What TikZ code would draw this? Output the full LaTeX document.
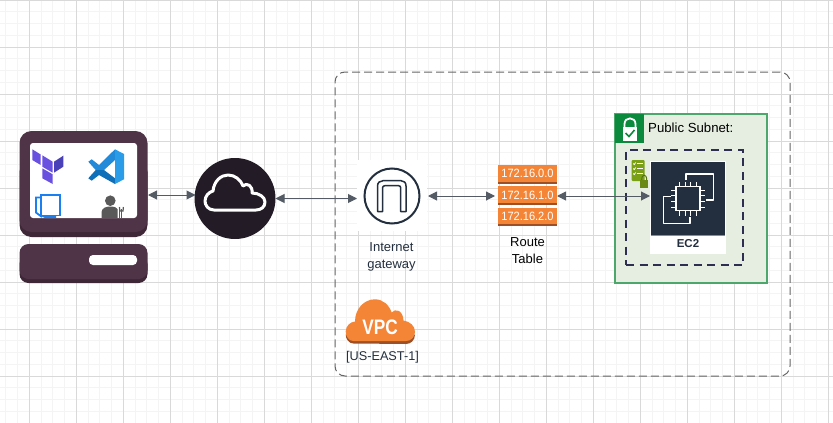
\documentclass[tikz,border=0pt]{standalone}
\usepackage{fontspec}
\setmainfont{Liberation Sans}
\usetikzlibrary{arrows.meta}
\definecolor{plum}{HTML}{4F3447}
\definecolor{plumdark}{HTML}{3E2736}
\definecolor{ink}{HTML}{232F3E}
\definecolor{conncol}{HTML}{545B64}
\definecolor{orangea}{HTML}{F58536}
\definecolor{orangeb}{HTML}{9D5025}
\definecolor{gridmaj}{HTML}{D9D9D9}
\definecolor{gridmin}{HTML}{F4F4F4}
\definecolor{subfill}{HTML}{E6EEE2}
\definecolor{subline}{HTML}{4CA86A}
\definecolor{subgreen}{HTML}{0B8A3E}
\definecolor{navydash}{HTML}{2E2E52}
\definecolor{listgreen}{HTML}{7AA116}
\definecolor{tfb}{HTML}{6A50E0}
\definecolor{tfc}{HTML}{4A40B8}
\definecolor{vsa}{HTML}{2A9CE8}
\definecolor{vsb}{HTML}{0F6FB8}
\definecolor{vsc}{HTML}{2389D9}
\definecolor{bluesq}{HTML}{1A7FF0}
\definecolor{netdark}{HTML}{231C26}
\tikzset{
  conn/.style={draw=conncol,line width=1pt,{Triangle[length=9pt,width=9pt]}-{Triangle[length=9pt,width=9pt]}},
  box/.style={inner sep=0pt,outer sep=0pt,draw=none},
  routerow/.style={box,fill=orangea,minimum width=59pt,minimum height=16.5pt},
  routetext/.style={inner sep=0pt,text=white,xscale=.92,font=\fontsize{12}{12}\selectfont},
  lbl/.style={inner sep=0pt,align=center,font=\fontsize{13}{17}\selectfont},
}
\begin{document}
\begin{tikzpicture}[x=1pt,y=-1pt]
\useasboundingbox (0,0) rectangle (833,423);
\fill[white] (0,0) rectangle (833,423);
% grid
\foreach \k in {0,...,71}{
  \draw[gridmin,line width=1pt] ({5.8+11.75*\k},0) -- ({5.8+11.75*\k},423);
}
\foreach \k in {0,...,36}{
  \draw[gridmin,line width=1pt] (0,{11.75*\k}) -- (833,{11.75*\k});
}
\foreach \k in {0,...,17}{
  \draw[gridmaj,line width=1pt] ({29.3+47*\k},0) -- ({29.3+47*\k},423);
}
\foreach \k in {0,...,9}{
  \draw[gridmaj,line width=1pt] (0,{47*\k}) -- (833,{47*\k});
}
% VPC boundary
\node[box,draw=black!60,dashed,dash pattern=on 8pt off 4pt,line width=1pt,rounded corners=10pt,minimum width=455pt,minimum height=304pt] (vpc) at (562.5,224) {};
% computer
\fill[plumdark,rounded corners=12pt] (19.5,160) rectangle (147.5,237);
\node[box,fill=plum,rounded corners=12pt,minimum width=128pt,minimum height=101pt] (pc) at (83.5,181.5) {};
\node[box,fill=white,rounded corners=3pt,minimum width=107pt,minimum height=75pt] (screen) at (83.5,180.5) {};
\fill[plumdark,rounded corners=9pt] (19.5,255) rectangle (147.5,283);
\node[box,fill=plum,rounded corners=9pt,minimum width=128pt,minimum height=35pt] (base) at (83.5,261.5) {};
\node[box,fill=white,rounded corners=4pt,minimum width=48pt,minimum height=10pt] (btn) at (113,260) {};
% terraform
\fill[tfb] (32.3,149.3) -- (40.7,154.5) -- (40.7,165) -- (32.3,160) -- cycle;
\fill[tfb] (42.3,155.3) -- (52.7,161.7) -- (52.7,172.7) -- (42.3,166.7) -- cycle;
\fill[tfc] (54,161.7) -- (63.3,155.7) -- (63.3,166.7) -- (54,172.7) -- cycle;
\fill[tfb] (42.3,168.3) -- (52.7,174.3) -- (52.7,184) -- (42.3,178.3) -- cycle;
% vs code
\fill[vsc] (115,149.3) -- (99,165) -- (91.7,159.3) -- (88.3,161.7) -- (95.7,170) -- (104,170) -- (115,160) -- cycle;
\fill[vsb] (88.3,178.3) -- (91.7,180.7) -- (99,175) -- (115,184) -- (115,178.3) -- (104,170) -- (95.7,170) -- cycle;
\fill[vsa] (115,149.3) -- (124,154) -- (124,179.3) -- (115,184) -- cycle;
% blue squares
\draw[bluesq,line width=1.8pt] (41,195.3) rectangle (60,215.5);
\draw[bluesq,line width=1.8pt] (41,197.5) -- (36,197.5) -- (36,212.5) -- (42,217);
\fill[bluesq] (41,216) -- (56,216) -- (56,218) -- (45,218) -- cycle;
% person
\fill[black!65] (110.3,200.7) circle[radius=5.3];
\fill[black!65] (101.5,218) -- (101.5,212) .. controls (102,208) and (106,206.5) .. (110.3,206.5) .. controls (114,206.5) and (117,207.5) .. (117.5,209) -- (117.5,218) -- cycle;
\draw[black!65,line width=1.2pt] (121.5,209) -- (121.5,218);
\draw[black!65,line width=1.1pt] (119.3,211) -- (119.3,218);
\draw[black!65,line width=1.2pt] (119.5,207) -- (119.8,211) -- (123,211) -- (123.4,207);
% internet cloud
\node[box,circle,fill=netdark,minimum size=81pt] (net) at (235,198.5) {};
\draw[white,line width=3pt,line join=round] (214,210) .. controls (208,210) and (205,205) .. (205,201) .. controls (205,196) and (209,192) .. (213,191) .. controls (214,181) and (221,175) .. (228,175) .. controls (235,175) and (241,180) .. (243,186) .. controls (247,182) and (253,186) .. (252,193) .. controls (259,193) and (265,197) .. (265,202) .. controls (265,207) and (261,210) .. (256,210) -- cycle;
% gateway
\node[box,fill=white,minimum width=70pt,minimum height=71pt] (igw) at (392,195.5) {};
\draw[ink,line width=2pt] (392,196) circle[radius=27.5];
\draw[ink,line width=1.5pt,line join=round] (377.5,211.5) -- (377.5,186) .. controls (377.5,182.5) and (380,180.7) .. (383,180.7) -- (401,180.7) .. controls (404,180.7) and (406,182.5) .. (406,186) -- (406,211.5) -- (400.7,211.5) -- (400.7,188) .. controls (400.7,186.5) and (400,185.7) .. (398.5,185.7) -- (385,185.7) .. controls (383.5,185.7) and (382.5,186.5) .. (382.5,188) -- (382.5,211.5) -- cycle;
\node[lbl,text=ink] (igwlabel) at (391.5,257) {Internet\\gateway};
% route table
\fill[orangeb] (498,165) rectangle (557,184);
\fill[orangeb] (498,186.5) rectangle (557,205);
\fill[orangeb] (498,208) rectangle (557,226);
\node[routerow] (rta) at (527.5,173.3) {};
\node[routerow] (rtb) at (527.5,194.6) {};
\node[routerow] (rtc) at (527.5,216) {};
\node[routetext] (rtat) at (527.5,173.6) {172.16.0.0};
\node[routetext] (rtbt) at (527.5,195) {172.16.1.0};
\node[routetext] (rtct) at (527.5,216.3) {172.16.2.0};
\node[lbl,text=black] (rtlabel) at (527.5,250.5) {Route\\Table};
% VPC cloud
\fill[orangeb] (353.3,343.5) .. controls (349,343.5) and (345.7,339) .. (345.7,334.5) -- (415,334.5) .. controls (415,340) and (411,344) .. (406,344) -- cycle;
\fill[orangea] (353.3,341) .. controls (349,341) and (345.7,336.5) .. (345.7,331.7) .. controls (345.7,326) and (350,322) .. (355,321.5) .. controls (355,309) and (364,299.3) .. (375,299.3) .. controls (383,299.3) and (389,305) .. (391.7,312.5) .. controls (395,308) and (403,310) .. (403.5,320.5) .. controls (410,321.5) and (415,326) .. (415,331.7) .. controls (415,337) and (411,341) .. (406,341) -- cycle;
\node[inner sep=0pt,text=white,xscale=.82,font=\bfseries\fontsize{21}{21}\selectfont] (vpclabel) at (380,327.5) {VPC};
\node[inner sep=0pt,text=ink,font=\fontsize{12.7}{15}\selectfont] (region) at (382.5,357) {[US-EAST-1]};
% subnet
\node[box,draw=subline,fill=subfill,line width=1.5pt,minimum width=152pt,minimum height=169pt] (subnet) at (691,198.5) {};
\node[box,fill=subgreen,minimum width=29pt,minimum height=29pt] (lockbg) at (629.5,128.5) {};
\draw[white,line width=1.8pt] (624.5,127) -- (624.5,124) .. controls (624.5,116.5) and (635.5,116.5) .. (635.5,124) -- (635.5,127);
\fill[white] (622.7,127) rectangle (637,140.5);
\draw[subgreen,line width=1.6pt] (625.5,133) -- (629,136.5) -- (634.5,130);
\node[anchor=west,inner sep=0pt,text=black,font=\fontsize{13.2}{15}\selectfont] (sublabel) at (648,128) {Public Subnet:};
\node[box,draw=navydash,line width=2.4pt,dash pattern=on 8pt off 5.5pt,minimum width=117pt,minimum height=115pt] (inner) at (684.5,207.5) {};
% EC2
\node[box,fill=white,minimum width=76pt,minimum height=93pt] (ec2) at (688,207.5) {};
\fill[ink] (651,161.5) rectangle (725.3,235);
\fill[black!45] (651,235) rectangle (725.3,236);
\node[inner sep=0pt,text=ink,font=\bfseries\fontsize{11.5}{12}\selectfont] (ec2label) at (688,243.5) {EC2};
\draw[white,line width=1.1pt,line join=round] (686,180) -- (686,174) -- (713.3,174) -- (713.3,200) -- (706,200);
\draw[white,line width=1.1pt,line join=round] (670.7,196.7) -- (663.3,196.7) -- (663.3,223.3) -- (690,223.3) -- (690,216.7);
\draw[white,line width=1.1pt] (676,186.7) rectangle (700,210.7);
\foreach \p in {0,1,2,3}{
  \draw[white,line width=1pt] ({679.5+5.6*\p},186.7) -- ({679.5+5.6*\p},182);
  \draw[white,line width=1pt] ({679.5+5.6*\p},210.7) -- ({679.5+5.6*\p},215.5);
  \draw[white,line width=1pt] (676,{190.2+5.6*\p}) -- (671.3,{190.2+5.6*\p});
  \draw[white,line width=1pt] (700,{190.2+5.6*\p}) -- (704.7,{190.2+5.6*\p});
}
% key list icon
\fill[listgreen,rounded corners=1pt] (631.7,160) rectangle (644.5,181);
\foreach \p in {163.5,168.5,173.5}{
  \draw[white,line width=.8pt] (633.3,\p) -- (634.3,{\p+1}) -- (635.7,{\p-1});
  \draw[white,line width=.9pt] (637,\p) -- (643,\p);
}
\draw[listgreen!70!black,line width=1pt] (641.7,180) .. controls (641.7,173.5) and (646.7,173.5) .. (646.7,180);
\fill[listgreen!85!black] (640,179.5) rectangle (648.3,187.7);
% connectors
\draw[conn] ([yshift=-13.5pt,xshift=.5pt]pc.east) -- ([yshift=3.5pt,xshift=1pt]net.west);
\draw[conn] (net.east) -- (net.east -| igw.west);
\draw[conn] ([xshift=1pt,yshift=-.5pt]igw.east) -- ([xshift=-3pt,yshift=-.5pt]igw.east -| rtb.west);
\draw[conn] ([yshift=-1.4pt]rtb.east) -- ([yshift=-1.4pt]rtb.east -| ec2.west);
\end{tikzpicture}
\end{document}
